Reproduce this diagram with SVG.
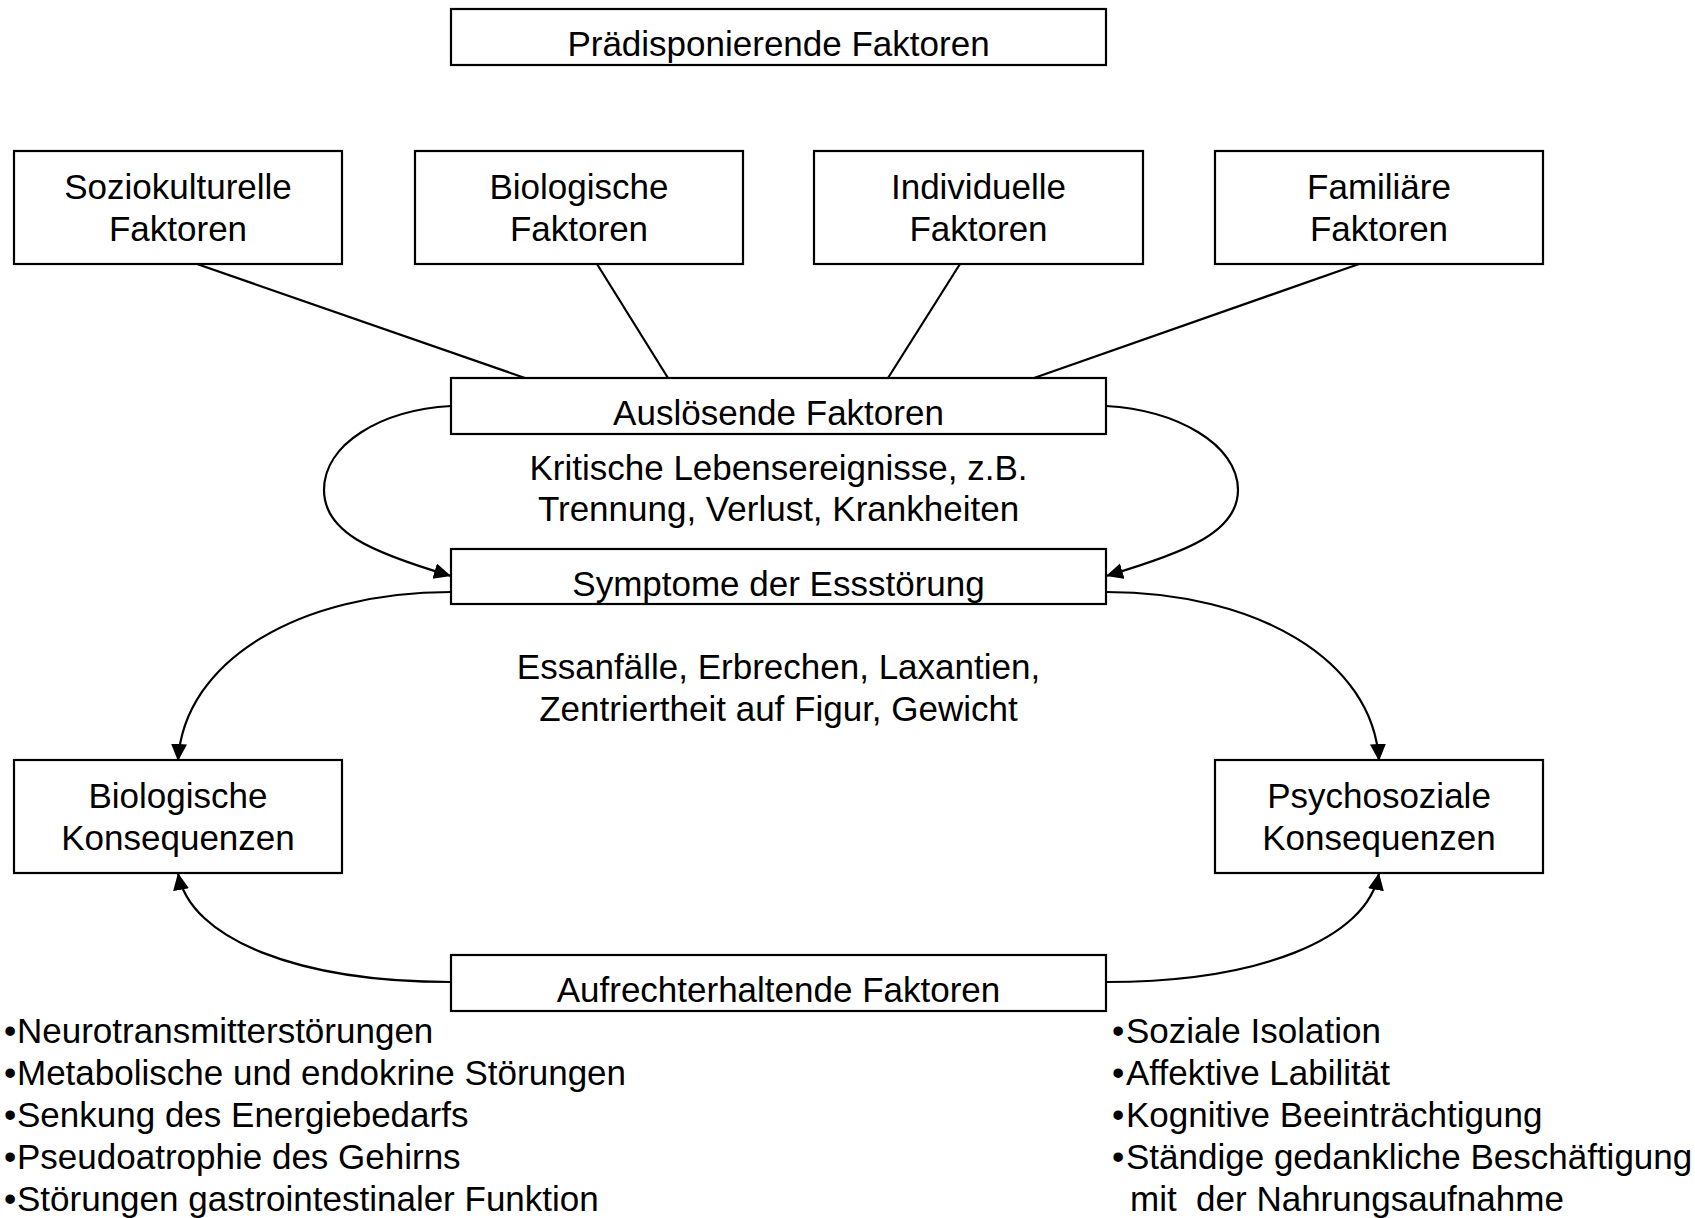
<svg xmlns="http://www.w3.org/2000/svg" width="1695" height="1218" viewBox="0 0 1695 1218">
<defs>
<style>
.box{fill:#fff;stroke:#000;stroke-width:2.2}
.t{font-family:"Liberation Sans",Arial,sans-serif;font-size:35px;fill:#000;text-anchor:middle}
.l{font-family:"Liberation Sans",Arial,sans-serif;font-size:35px;fill:#000}
.c{fill:none;stroke:#000;stroke-width:2.2}
</style>
<marker id="ah" markerUnits="userSpaceOnUse" markerWidth="20" markerHeight="20" refX="17" refY="8" orient="auto">
<path d="M0,0 L17,8 L0,16 z" fill="#000"/>
</marker>
</defs>
<rect width="1695" height="1218" fill="#fff"/>
<g id="connectors">
<line class="c" x1="197" y1="264" x2="525" y2="378"/>
<line class="c" x1="597" y1="264" x2="668" y2="378"/>
<line class="c" x1="960" y1="264" x2="888" y2="378"/>
<line class="c" x1="1359" y1="264" x2="1034" y2="378"/>
<path class="c" marker-end="url(#ah)" d="M451,406 C381,410 324,444 324,490 C324,532 370,552 451,576"/>
<path class="c" marker-end="url(#ah)" d="M1106,406 C1176,410 1238,444 1238,490 C1238,532 1187,552 1106,576"/>
<path class="c" marker-end="url(#ah)" d="M451,592 C300,592 184,660 178,761"/>
<path class="c" marker-end="url(#ah)" d="M1106,592 C1257,592 1373,660 1379,761"/>
<path class="c" marker-end="url(#ah)" d="M451,982 C300,982 190,940 178,873"/>
<path class="c" marker-end="url(#ah)" d="M1106,982 C1257,982 1367,940 1379,873"/>
</g>
<g id="praedisponierend">
<rect class="box" x="451" y="9" width="655" height="56"/>
<text class="t" x="778.5" y="56">Prädisponierende Faktoren</text>
</g>
<g id="soziokulturell">
<rect class="box" x="14" y="151" width="328" height="113"/>
<text class="t" x="178" y="199">Soziokulturelle</text>
<text class="t" x="178" y="241">Faktoren</text>
</g>
<g id="biologisch">
<rect class="box" x="415" y="151" width="328" height="113"/>
<text class="t" x="579" y="199">Biologische</text>
<text class="t" x="579" y="241">Faktoren</text>
</g>
<g id="individuell">
<rect class="box" x="814" y="151" width="329" height="113"/>
<text class="t" x="978.5" y="199">Individuelle</text>
<text class="t" x="978.5" y="241">Faktoren</text>
</g>
<g id="familiaer">
<rect class="box" x="1215" y="151" width="328" height="113"/>
<text class="t" x="1379" y="199">Familiäre</text>
<text class="t" x="1379" y="241">Faktoren</text>
</g>
<g id="ausloesend">
<rect class="box" x="451" y="378" width="655" height="56"/>
<text class="t" x="778.5" y="425">Auslösende Faktoren</text>
</g>
<g id="ausloesend-text">
<text class="t" x="778.5" y="480">Kritische Lebensereignisse, z.B.</text>
<text class="t" x="778.5" y="521">Trennung, Verlust, Krankheiten</text>
</g>
<g id="symptome">
<rect class="box" x="451" y="549" width="655" height="55"/>
<text class="t" x="778.5" y="596">Symptome der Essstörung</text>
</g>
<g id="symptome-text">
<text class="t" x="778.5" y="679">Essanfälle, Erbrechen, Laxantien,</text>
<text class="t" x="778.5" y="721">Zentriertheit auf Figur, Gewicht</text>
</g>
<g id="bio-konsequenzen">
<rect class="box" x="14" y="760" width="328" height="113"/>
<text class="t" x="178" y="808">Biologische</text>
<text class="t" x="178" y="850">Konsequenzen</text>
</g>
<g id="psycho-konsequenzen">
<rect class="box" x="1215" y="760" width="328" height="113"/>
<text class="t" x="1379" y="808">Psychosoziale</text>
<text class="t" x="1379" y="850">Konsequenzen</text>
</g>
<g id="aufrechterhaltend">
<rect class="box" x="451" y="955" width="655" height="56"/>
<text class="t" x="778.5" y="1002">Aufrechterhaltende Faktoren</text>
</g>
<g id="bio-liste">
<text class="l" x="4" y="1043">•<tspan x="17">Neurotransmitterstörungen</tspan></text>
<text class="l" x="4" y="1085">•<tspan x="17">Metabolische und endokrine Störungen</tspan></text>
<text class="l" x="4" y="1127">•<tspan x="17">Senkung des Energiebedarfs</tspan></text>
<text class="l" x="4" y="1169">•<tspan x="17">Pseudoatrophie des Gehirns</tspan></text>
<text class="l" x="4" y="1211">•<tspan x="17">Störungen gastrointestinaler Funktion</tspan></text>
</g>
<g id="psycho-liste">
<text class="l" x="1112" y="1043">•<tspan x="1126">Soziale Isolation</tspan></text>
<text class="l" x="1112" y="1085">•<tspan x="1126">Affektive Labilität</tspan></text>
<text class="l" x="1112" y="1127">•<tspan x="1126">Kognitive Beeinträchtigung</tspan></text>
<text class="l" x="1112" y="1169">•<tspan x="1126">Ständige gedankliche Beschäftigung</tspan></text>
<text class="l" x="1130" y="1211" xml:space="preserve">mit  der Nahrungsaufnahme</text>
</g>
</svg>
